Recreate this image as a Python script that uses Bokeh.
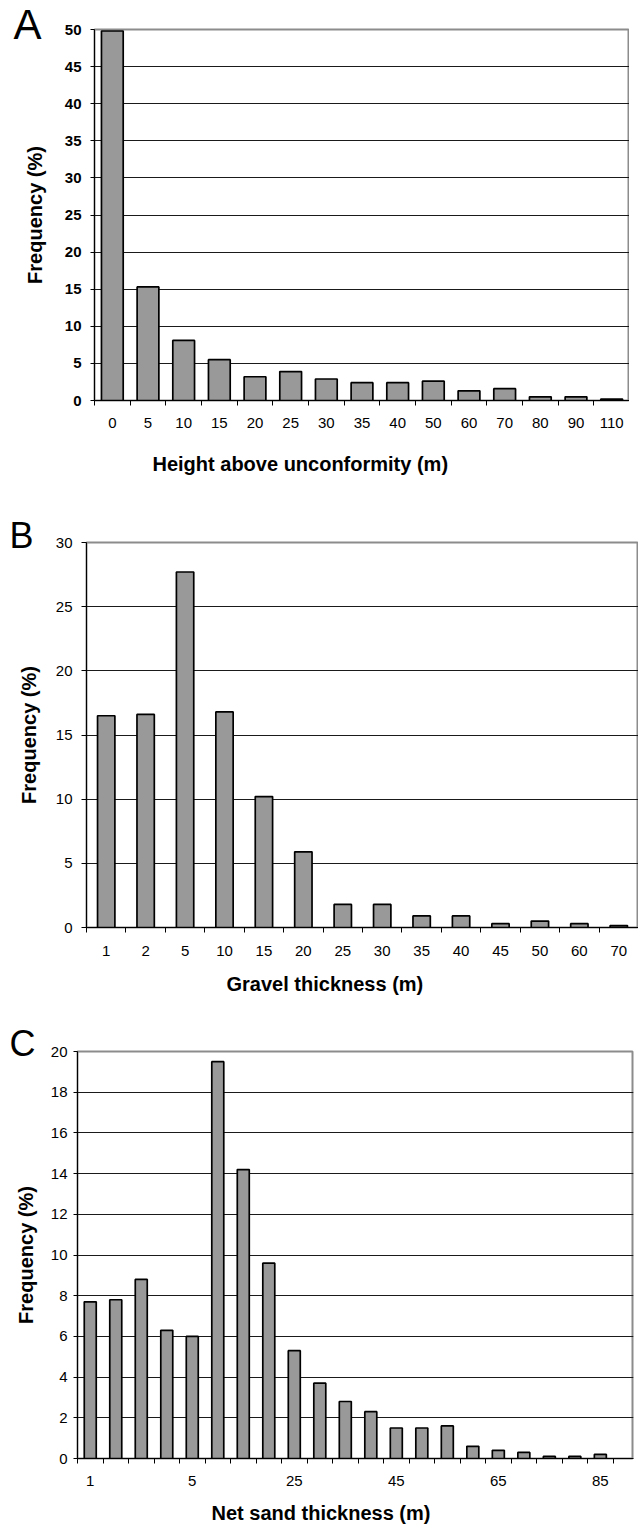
from bokeh.plotting import figure
from bokeh.models import Range1d, FixedTicker, Title
from bokeh.layouts import column
from bokeh.embed import file_html
from bokeh.resources import INLINE

# ---- data ----
a_cats = ["0", "5", "10", "15", "20", "25", "30", "35", "40", "50", "60", "70", "80", "90", "110"]
a_vals = [49.8, 15.3, 8.1, 5.5, 3.2, 3.9, 2.9, 2.4, 2.4, 2.6, 1.3, 1.6, 0.5, 0.5, 0.2]

b_cats = ["1", "2", "5", "10", "15", "20", "25", "30", "35", "40", "45", "50", "60", "70"]
b_vals = [16.5, 16.6, 27.7, 16.8, 10.2, 5.9, 1.8, 1.8, 0.9, 0.9, 0.3, 0.5, 0.3, 0.15]

c_cats = ["1", "2", "3", "4", "5", "10", "15", "20", "25", "30", "35", "40", "45", "50",
          "55", "60", "65", "70", "75", "80", "85"]
c_vals = [7.7, 7.8, 8.8, 6.3, 6.0, 19.5, 14.2, 9.6, 5.3, 3.7, 2.8, 2.3, 1.5, 1.5,
          1.6, 0.6, 0.4, 0.3, 0.1, 0.1, 0.2]

a_yticks = [0, 5, 10, 15, 20, 25, 30, 35, 40, 45, 50]
b_yticks = [0, 5, 10, 15, 20, 25, 30]
c_yticks = [0, 2, 4, 6, 8, 10, 12, 14, 16, 18, 20]

FONT = "Liberation Sans"
LEFT = 86  # common left border (column aligns frames); shifted per panel with margins


def spacer(h):
    return Title(text=" ", text_font_size="1px", standoff=max(h - 1.17, 0))


def panel(letter, cats, vals, yticks, xtitle, *, label_step, bar_w, x_end, shift,
          fw, fh, bb, top_sp, letter_size, letter_sd, letter_off,
          tick_bold, ytick_out, ylab_sd, ytit_sd, xlab_sd, xtit_sp, xtit_off):
    n = len(cats)
    centers = [i + 0.5 for i in range(n)]
    p = figure(frame_width=fw, frame_height=fh, min_border_left=LEFT, min_border_right=0,
               min_border_top=0, min_border_bottom=bb, output_backend="svg",
               toolbar_location=None, x_range=Range1d(0, x_end),
               y_range=Range1d(yticks[0], yticks[-1]), margin=(0, 0, 0, shift))
    p.vbar(x=centers, top=vals, bottom=0, width=bar_w, fill_color="#999999",
           line_color="black", line_width=1.7)
    # x axis: labels at category centres, tick marks at category boundaries
    xa = p.xaxis[0]
    shown = centers[::label_step]
    xa.ticker = FixedTicker(ticks=shown, minor_ticks=list(range(0, n + 1)))
    xa.major_label_overrides = {c: cats[i * label_step] for i, c in enumerate(shown)}
    xa.major_tick_out = 0
    xa.major_tick_in = 0
    xa.minor_tick_out = 5
    xa.minor_tick_in = 0
    xa.minor_tick_line_color = "black"
    xa.axis_line_color = "black"
    xa.major_label_text_font = FONT
    xa.major_label_text_font_size = "15px"
    xa.major_label_text_color = "black"
    xa.major_label_standoff = xlab_sd
    # y axis
    ya = p.yaxis[0]
    ya.ticker = FixedTicker(ticks=yticks, minor_ticks=[])
    ya.major_tick_out = ytick_out
    ya.major_tick_in = 0
    ya.major_tick_line_color = "black"
    ya.axis_line_color = "black"
    ya.major_label_text_font = FONT
    ya.major_label_text_font_size = "15px"
    ya.major_label_text_color = "black"
    ya.major_label_text_font_style = "bold" if tick_bold else "normal"
    ya.major_label_standoff = ylab_sd
    ya.axis_label = "Frequency (%)"
    ya.axis_label_text_font = FONT
    ya.axis_label_text_font_size = "20px"
    ya.axis_label_text_font_style = "bold"
    ya.axis_label_text_color = "black"
    ya.axis_label_standoff = ytit_sd
    # grid / frame
    p.xgrid.visible = False
    p.ygrid.grid_line_color = "#1a1a1a"
    p.ygrid.grid_line_width = 1
    p.outline_line_color = "#8c8c8c"
    p.outline_line_width = 2
    p.background_fill_color = "white"
    p.border_fill_color = "white"
    # panel letter (closest to frame), then spacer above it
    p.add_layout(Title(text=letter, align="left", offset=letter_off,
                       text_font=FONT, text_font_size=letter_size,
                       text_font_style="normal", text_color="black",
                       vertical_align="bottom", standoff=letter_sd), "above")
    p.add_layout(spacer(top_sp), "above")
    # x axis title below: spacer then title
    p.add_layout(spacer(xtit_sp), "below")
    p.add_layout(Title(text=xtitle, align="left", offset=xtit_off,
                       text_font=FONT, text_font_size="20px",
                       text_font_style="bold", text_color="black",
                       vertical_align="top", standoff=0), "below")
    return p


pa = panel("A", a_cats, a_vals, a_yticks, "Height above unconformity (m)",
           label_step=1, bar_w=0.61, x_end=len(a_cats), shift=8,
           fw=535, fh=371, bb=116, top_sp=15.4,
           letter_size="42px", letter_sd=-37.4, letter_off=-81,
           tick_bold=True, ytick_out=4, ylab_sd=9, ytit_sd=16,
           xlab_sd=12, xtit_sp=20, xtit_off=58)
pb = panel("B", b_cats, b_vals, b_yticks, "Gravel thickness (m)",
           label_step=1, bar_w=0.44, x_end=len(b_cats), shift=0,
           fw=552, fh=385, bb=93, top_sp=8,
           letter_size="36px", letter_sd=-27, letter_off=-77,
           tick_bold=False, ytick_out=5, ylab_sd=9, ytit_sd=13,
           xlab_sd=13, xtit_sp=12, xtit_off=140)
pc = panel("C", c_cats, c_vals, c_yticks, "Net sand thickness (m)",
           label_step=4, bar_w=0.47, x_end=21.8, shift=-9,
           fw=565, fh=407, bb=64, top_sp=10,
           letter_size="36px", letter_sd=-24, letter_off=-68,
           tick_bold=False, ytick_out=4, ylab_sd=6, ytit_sd=11,
           xlab_sd=12, xtit_sp=11, xtit_off=134)

layout = column(pa, pb, pc, spacing=0)
open("out.html", "w").write(file_html(layout, INLINE))
